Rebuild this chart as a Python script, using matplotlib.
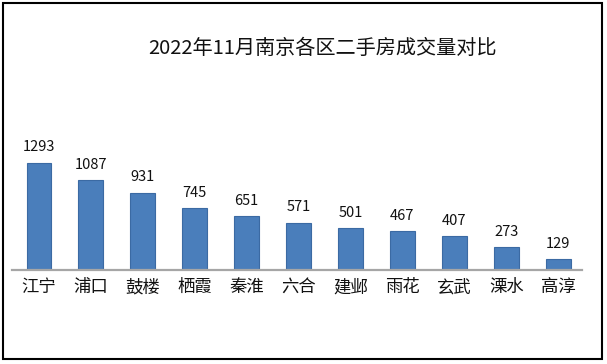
import matplotlib
matplotlib.use('Agg')
import matplotlib.pyplot as plt
from matplotlib.patches import Rectangle

plt.rcParams['font.family'] = ['Noto Sans CJK SC', 'DejaVu Sans']

# 2022年11月 南京各区二手房成交量
districts = ['江宁', '浦口', '鼓楼', '栖霞', '秦淮', '六合', '建邺', '雨花', '玄武', '溧水', '高淳']
volumes = [1293, 1087, 931, 745, 651, 571, 501, 467, 407, 273, 129]
title = '2022年11月南京各区二手房成交量对比'

fig = plt.figure(figsize=(6.07, 3.64), dpi=100)
ax = fig.add_axes([12 / 607, 94 / 364, 570 / 607, 170 / 364])

x = list(range(len(districts)))
bars = ax.bar(x, volumes, width=0.48, color='#4a7ebb', edgecolor='#3b6aa3', linewidth=0.8)

# value labels above each bar
for xi, v in zip(x, volumes):
    ax.annotate(str(v), (xi, v), xytext=(0, 6), textcoords='offset points',
                ha='center', va='bottom', fontsize=10.5, color='#111111')

ax.set_xlim(-0.52, 10.46)
ax.set_ylim(0, 2050)
ax.set_xticks(x)
ax.set_xticklabels(districts, fontsize=12.5, color='#111111')
ax.tick_params(axis='x', length=0, pad=6)
ax.set_yticks([])
for side in ['left', 'right', 'top']:
    ax.spines[side].set_visible(False)
ax.spines['bottom'].set_color('#a6a6a6')
ax.spines['bottom'].set_linewidth(1.6)
ax.patch.set_visible(False)

fig.text(322 / 607, 1 - 48 / 364, title, ha='center', va='center', fontsize=14.5, color='#111111')

# outer frame
fig.patches.append(Rectangle((3 / 607, 5 / 364), 599 / 607, 356 / 364, transform=fig.transFigure,
                             fill=False, edgecolor='black', linewidth=1.5))

plt.savefig('out.png', dpi=100)
